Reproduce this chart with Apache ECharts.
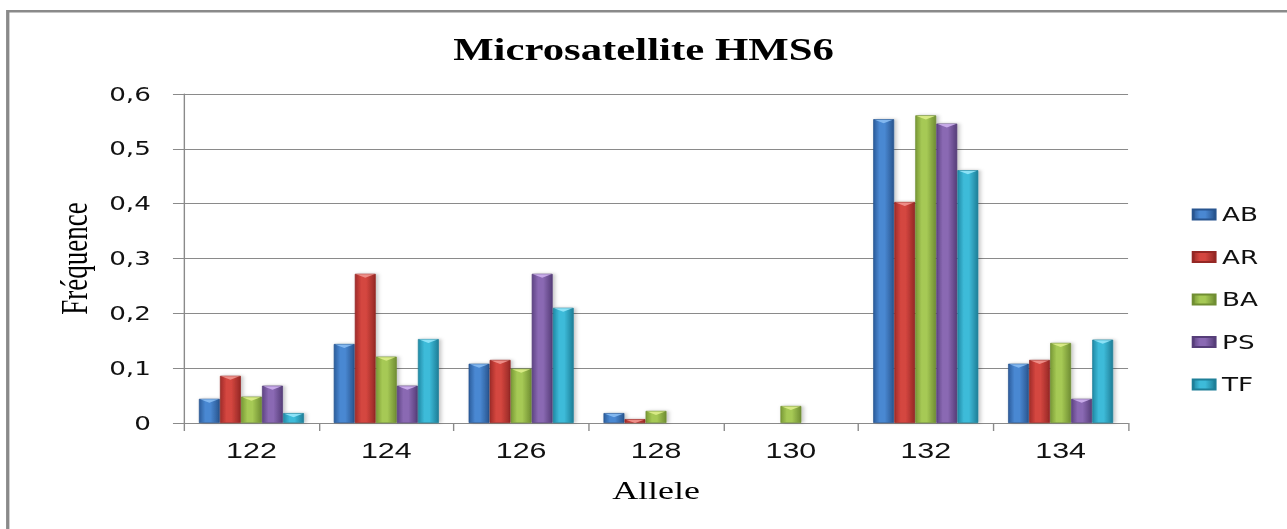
<!DOCTYPE html>
<html>
<head>
<meta charset="utf-8">
<script src="https://cdn.jsdelivr.net/npm/echarts@6/dist/echarts.min.js"></script>
<style>
  html, body { margin: 0; padding: 0; background: #ffffff; overflow: hidden; }
  #wrap { width: 1287px; height: 529px; overflow: hidden; position: relative; }
  /* the chart is laid out narrower and widened horizontally */
  #chart { width: 932px; height: 529px; transform-origin: 0 0; transform: scaleX(1.38090); }
</style>
</head>
<body>
<div id="wrap"><div id="chart"></div></div>
<script>
// Allele sizes (x categories)
const alleles = ['122', '124', '126', '128', '130', '132', '134'];
// Population names
const populations = ['AB', 'AR', 'BA', 'PS', 'TF'];
// Allele frequencies per population
const freqAB = [0.044, 0.144, 0.108, 0.018, 0.000, 0.554, 0.108];
const freqAR = [0.086, 0.272, 0.115, 0.007, 0.000, 0.403, 0.115];
const freqBA = [0.048, 0.121, 0.099, 0.022, 0.031, 0.561, 0.146];
const freqPS = [0.068, 0.068, 0.272, 0.000, 0.000, 0.546, 0.044];
const freqTF = [0.018, 0.153, 0.210, 0.000, 0.000, 0.461, 0.152];
// y-axis tick values
const yTicks = [0, 0.1, 0.2, 0.3, 0.4, 0.5, 0.6];

const freqs = [freqAB, freqAR, freqBA, freqPS, freqTF];

// shading for each population: [dark edge, highlight, right edge, bevel]
const shades = [
  ['#2c5d9c', '#4a88d2', '#28558f', '#8cc0f4'],
  ['#a02c29', '#d4463f', '#952825', '#f29a94'],
  ['#7a9a36', '#a6c955', '#708e33', '#e0f08e'],
  ['#5f4585', '#8a69b3', '#563e79', '#d2b6f2'],
  ['#218aa6', '#3dbbd9', '#1e7f98', '#9ae9fb']
];

const CAT_GAP = 0.22;

function barFill(s) {
  return new echarts.graphic.LinearGradient(0, 0, 1, 0, [
    { offset: 0, color: s[0] },
    { offset: 0.3, color: s[1] },
    { offset: 0.55, color: s[1] },
    { offset: 1, color: s[2] }
  ]);
}

const barSeries = populations.map((name, k) => ({
  name: name,
  type: 'bar',
  data: freqs[k],
  barGap: '0%',
  barCategoryGap: (CAT_GAP * 100) + '%',
  itemStyle: {
    color: barFill(shades[k]),
    borderColor: shades[k][2],
    borderWidth: 0.6,
    shadowColor: 'rgba(0,0,0,0.25)',
    shadowBlur: 3,
    shadowOffsetX: 1.5
  },
  emphasis: { disabled: true },
  z: 2
}));

// bevel highlight on the top of each bar
const bevelData = [];
freqs.forEach((arr, k) => arr.forEach((v, i) => {
  if (v > 0) bevelData.push([i, v, k]);
}));

const bevelSeries = {
  name: 'bevel',
  type: 'custom',
  data: bevelData,
  encode: { x: 0, y: 1 },
  silent: true,
  z: 3,
  renderItem: function (params, api) {
    const cat = api.value(0), val = api.value(1), k = api.value(2);
    const base = api.coord([cat, 0]);
    const top = api.coord([cat, val]);
    const band = api.size([1, 0])[0];
    const groupW = band * (1 - CAT_GAP);
    const bw = groupW / populations.length;
    const x0 = base[0] - groupW / 2 + k * bw;
    const depth = Math.min(4, base[1] - top[1]);
    return {
      type: 'polygon',
      shape: { points: [[x0 + 1, top[1] + 0.5], [x0 + bw - 1, top[1] + 0.5], [x0 + bw / 2, top[1] + depth]] },
      style: { fill: shades[k][3], opacity: 0.85 }
    };
  }
};

const chart = echarts.init(document.getElementById('chart'), null, { renderer: 'svg' });
chart.setOption({
  animation: false,
  backgroundColor: '#ffffff',
  color: shades.map(s => s[1]),
  title: {
    text: 'Microsatellite HMS6',
    left: 'center',
    top: 29,
    textStyle: { fontFamily: 'Liberation Serif', fontWeight: 'bold', fontSize: 31, color: '#000000' }
  },
  legend: {
    data: populations,
    orient: 'vertical',
    left: 858,
    top: 200,
    itemWidth: 16,
    itemHeight: 10,
    itemGap: 23.5,
    icon: 'rect',
    textStyle: { fontFamily: 'DejaVu Sans', fontSize: 19, color: '#111111', padding: [0, 0, 0, 0] },
    selectedMode: false
  },
  grid: { left: 133.25, right: 115.1, top: 94, bottom: 106, containLabel: false },
  xAxis: {
    type: 'category',
    data: alleles,
    name: 'Allele',
    nameLocation: 'middle',
    nameGap: 54,
    nameTextStyle: { fontFamily: 'Liberation Serif', fontSize: 26, color: '#000000', verticalAlign: 'top' },
    axisLine: { lineStyle: { color: '#8a8a8a', width: 1 } },
    axisTick: { show: true, length: 8, alignWithLabel: false, lineStyle: { color: '#8a8a8a' } },
    axisLabel: { fontFamily: 'Liberation Sans', fontSize: 22, color: '#111111', margin: 17 }
  },
  yAxis: {
    type: 'value',
    min: yTicks[0],
    max: yTicks[yTicks.length - 1],
    interval: 0.1,
    name: 'Fréquence',
    nameLocation: 'middle',
    nameGap: 66,
    nameTextStyle: { fontFamily: 'Liberation Serif', fontSize: 27, color: '#000000' },
    axisLine: { show: true, lineStyle: { color: '#8a8a8a', width: 1 } },
    axisTick: { show: true, length: 8, lineStyle: { color: '#8a8a8a' } },
    splitLine: { show: true, lineStyle: { color: '#8a8a8a', width: 1 } },
    axisLabel: {
      fontFamily: 'DejaVu Sans', fontSize: 19, color: '#111111', margin: 24,
      formatter: v => (Math.round(v * 10) / 10).toString().replace('.', ',')
    }
  },
  graphic: [{
    type: 'rect',
    shape: { x: 5.6, y: 11.2, width: 2000, height: 1000 },
    style: { fill: 'none', stroke: '#8a8a8a', lineWidth: 2.4 },
    silent: true,
    z: -10
  }],
  series: barSeries.concat([bevelSeries])
});
</script>
</body>
</html>
